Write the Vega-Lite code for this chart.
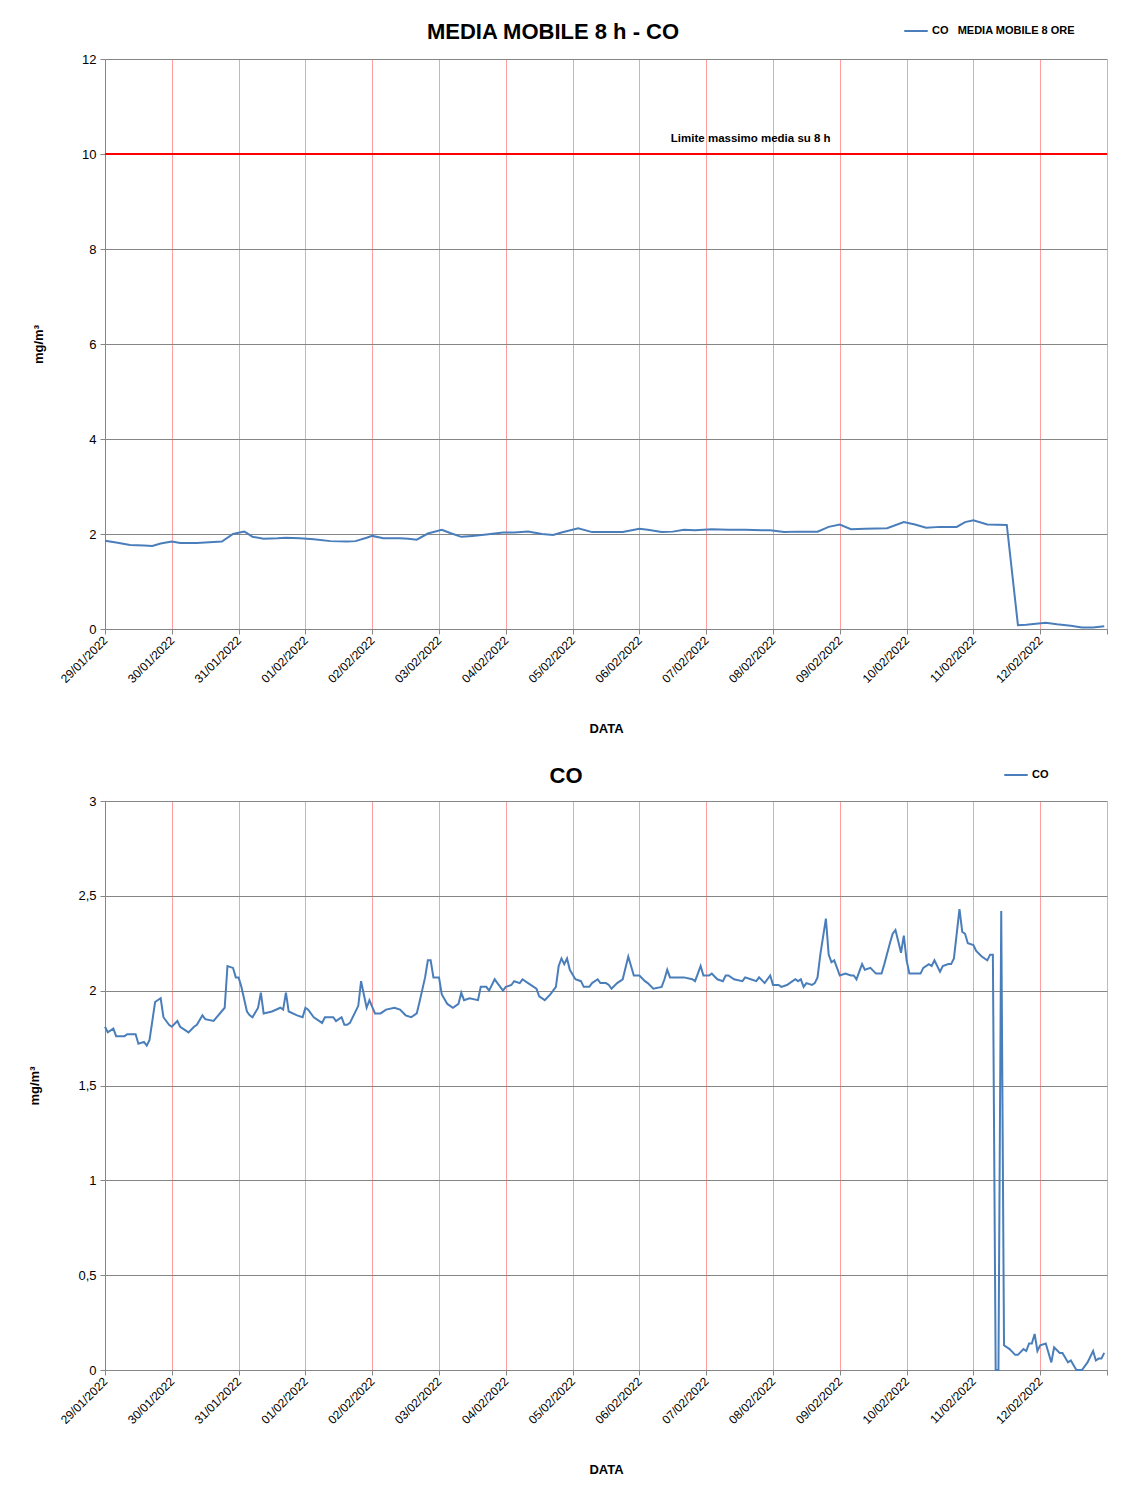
{
  "$schema": "https://vega.github.io/schema/vega-lite/v6.json",
  "background": "white",
  "padding": {"left": 28, "top": 18, "right": 20, "bottom": 4},
  "spacing": 26,
  "config": {
    "locale": {"number": {"decimal": ",", "thousands": ".", "grouping": [3], "currency": ["", " €"]}},
    "font": "Liberation Sans",
    "view": {"stroke": null},
    "axis": {
      "labelFont": "Liberation Sans",
      "labelFontSize": 13,
      "labelColor": "#000000",
      "titleFont": "Liberation Sans",
      "titleFontSize": 13,
      "titleFontWeight": "bold",
      "titleColor": "#000000",
      "domainColor": "#868686",
      "tickColor": "#868686",
      "tickSize": 5,
      "labelPadding": 4
    },
    "axisY": {"gridColor": "#868686", "gridWidth": 1, "titlePadding": 36},
    "axisX": {"gridColor": "#FF9E9E", "gridWidth": 1, "labelAngle": -45, "labelAlign": "right", "labelBaseline": "middle", "labelFontSize": 12, "titlePadding": 38},
    "title": {"font": "Liberation Sans", "fontSize": 22, "fontWeight": "bold", "color": "#000000"},
    "legend": {"labelFont": "Liberation Sans", "labelFontSize": 11, "labelFontWeight": "bold", "labelColor": "#000000", "symbolType": "stroke", "symbolStrokeWidth": 2, "symbolSize": 550, "labelOffset": 3}
  },
  "resolve": {"scale": {"color": "independent"}, "legend": {"color": "independent"}},
  "vconcat": [
    {
      "width": 1002,
      "height": 570,
      "title": {"text": "MEDIA MOBILE 8 h - CO", "anchor": "middle", "frame": "group", "dx": -53, "offset": -26},
      "encoding": {
        "x": {
          "field": "t", "type": "temporal",
          "scale": {"domain": [{"year": 2022, "month": 1, "date": 29}, {"year": 2022, "month": 2, "date": 13}]},
          "axis": {"title": "DATA", "tickCount": {"interval": "day", "step": 1}, "grid": true,
                   "labelExpr": "datum.value >= datetime(2022, 1, 13) ? '' : timeFormat(datum.value, '%d/%m/%Y')"}
        },
        "y": {
          "field": "v", "type": "quantitative",
          "scale": {"domain": [0, 12], "nice": false},
          "axis": {"title": "mg/m³", "values": [0, 2, 4, 6, 8, 10, 12], "grid": true}
        }
      },
      "layer": [
        {
          "data": {"values": [{"t": "2022-01-29T00:00", "v": 10}, {"t": "2022-02-13T00:00", "v": 10}]},
          "mark": {"type": "line", "color": "#FF0000", "strokeWidth": 2}
        },
        {
          "data": {"values": [
            {"t": "2022-01-29T00:00", "v": 1.86}, {"t": "2022-01-29T04:00", "v": 1.82}, {"t": "2022-01-29T09:00", "v": 1.77},
            {"t": "2022-01-29T14:00", "v": 1.76}, {"t": "2022-01-29T17:00", "v": 1.75}, {"t": "2022-01-29T20:00", "v": 1.80},
            {"t": "2022-01-30T00:00", "v": 1.84}, {"t": "2022-01-30T03:00", "v": 1.81}, {"t": "2022-01-30T09:00", "v": 1.81},
            {"t": "2022-01-30T15:00", "v": 1.83}, {"t": "2022-01-30T18:00", "v": 1.84}, {"t": "2022-01-30T22:00", "v": 2.00},
            {"t": "2022-01-31T02:00", "v": 2.05}, {"t": "2022-01-31T03:00", "v": 2.02}, {"t": "2022-01-31T05:00", "v": 1.94},
            {"t": "2022-01-31T09:00", "v": 1.90}, {"t": "2022-01-31T14:00", "v": 1.91}, {"t": "2022-01-31T17:00", "v": 1.92},
            {"t": "2022-01-31T22:00", "v": 1.91}, {"t": "2022-02-01T03:00", "v": 1.89}, {"t": "2022-02-01T09:00", "v": 1.85},
            {"t": "2022-02-01T15:00", "v": 1.84}, {"t": "2022-02-01T18:00", "v": 1.85}, {"t": "2022-02-01T22:00", "v": 1.92},
            {"t": "2022-02-02T00:00", "v": 1.96}, {"t": "2022-02-02T04:00", "v": 1.91}, {"t": "2022-02-02T10:00", "v": 1.91},
            {"t": "2022-02-02T13:00", "v": 1.90}, {"t": "2022-02-02T16:00", "v": 1.88}, {"t": "2022-02-02T20:00", "v": 2.01},
            {"t": "2022-02-03T01:00", "v": 2.09}, {"t": "2022-02-03T04:00", "v": 2.02}, {"t": "2022-02-03T08:00", "v": 1.94},
            {"t": "2022-02-03T12:00", "v": 1.96}, {"t": "2022-02-03T17:00", "v": 1.99}, {"t": "2022-02-03T23:00", "v": 2.03},
            {"t": "2022-02-04T03:00", "v": 2.03}, {"t": "2022-02-04T08:00", "v": 2.05}, {"t": "2022-02-04T13:00", "v": 2.00},
            {"t": "2022-02-04T17:00", "v": 1.98}, {"t": "2022-02-04T20:00", "v": 2.03}, {"t": "2022-02-05T02:00", "v": 2.12},
            {"t": "2022-02-05T07:00", "v": 2.04}, {"t": "2022-02-05T13:00", "v": 2.04}, {"t": "2022-02-05T18:00", "v": 2.04},
            {"t": "2022-02-06T00:00", "v": 2.11}, {"t": "2022-02-06T03:00", "v": 2.09}, {"t": "2022-02-06T08:00", "v": 2.04},
            {"t": "2022-02-06T12:00", "v": 2.05}, {"t": "2022-02-06T16:00", "v": 2.09}, {"t": "2022-02-06T20:00", "v": 2.08},
            {"t": "2022-02-07T02:00", "v": 2.10}, {"t": "2022-02-07T08:00", "v": 2.09}, {"t": "2022-02-07T14:00", "v": 2.09},
            {"t": "2022-02-07T20:00", "v": 2.08}, {"t": "2022-02-07T23:00", "v": 2.08}, {"t": "2022-02-08T04:00", "v": 2.04},
            {"t": "2022-02-08T09:00", "v": 2.05}, {"t": "2022-02-08T16:00", "v": 2.05}, {"t": "2022-02-08T20:00", "v": 2.15},
            {"t": "2022-02-09T00:00", "v": 2.20}, {"t": "2022-02-09T04:00", "v": 2.10}, {"t": "2022-02-09T09:00", "v": 2.11},
            {"t": "2022-02-09T17:00", "v": 2.12}, {"t": "2022-02-09T23:00", "v": 2.25}, {"t": "2022-02-10T03:00", "v": 2.20},
            {"t": "2022-02-10T07:00", "v": 2.13}, {"t": "2022-02-10T12:00", "v": 2.15}, {"t": "2022-02-10T18:00", "v": 2.15},
            {"t": "2022-02-10T21:00", "v": 2.25}, {"t": "2022-02-11T00:00", "v": 2.29}, {"t": "2022-02-11T05:00", "v": 2.20},
            {"t": "2022-02-11T12:00", "v": 2.19}, {"t": "2022-02-11T16:00", "v": 0.08}, {"t": "2022-02-11T19:00", "v": 0.09},
            {"t": "2022-02-12T02:00", "v": 0.13}, {"t": "2022-02-12T06:00", "v": 0.10}, {"t": "2022-02-12T11:00", "v": 0.07},
            {"t": "2022-02-12T15:00", "v": 0.03}, {"t": "2022-02-12T19:00", "v": 0.03}, {"t": "2022-02-12T23:00", "v": 0.06}
          ]},
          "mark": {"type": "line", "strokeWidth": 2},
          "encoding": {
            "color": {"datum": "CO\u00a0\u00a0\u00a0MEDIA MOBILE 8 ORE", "scale": {"range": ["#4A7EBB"]},
                      "legend": {"title": null, "orient": "none", "legendX": 798, "legendY": -41}}
          }
        },
        {
          "data": {"values": [{"t": "2022-02-07T16:00", "v": 10, "label": "Limite massimo media su 8 h"}]},
          "mark": {"type": "text", "font": "Liberation Sans", "fontSize": 11.5, "fontWeight": "bold", "color": "#000000", "dy": -15},
          "encoding": {
            "text": {"field": "label", "type": "nominal"}
          }
        }
      ]
    },
    {
      "width": 1002,
      "height": 569,
      "title": {"text": "CO", "anchor": "middle", "frame": "group", "dx": -40, "offset": -26},
      "data": {"values": [
        {"t": "2022-01-29T00:00", "v": 1.81}, {"t": "2022-01-29T01:00", "v": 1.78}, {"t": "2022-01-29T03:00", "v": 1.80},
        {"t": "2022-01-29T04:00", "v": 1.76}, {"t": "2022-01-29T07:00", "v": 1.76}, {"t": "2022-01-29T08:00", "v": 1.77},
        {"t": "2022-01-29T11:00", "v": 1.77}, {"t": "2022-01-29T12:00", "v": 1.72}, {"t": "2022-01-29T14:00", "v": 1.73},
        {"t": "2022-01-29T15:00", "v": 1.71}, {"t": "2022-01-29T16:00", "v": 1.74}, {"t": "2022-01-29T18:00", "v": 1.94},
        {"t": "2022-01-29T20:00", "v": 1.96}, {"t": "2022-01-29T21:00", "v": 1.86}, {"t": "2022-01-29T23:00", "v": 1.82},
        {"t": "2022-01-30T00:00", "v": 1.81}, {"t": "2022-01-30T02:00", "v": 1.84}, {"t": "2022-01-30T03:00", "v": 1.81},
        {"t": "2022-01-30T06:00", "v": 1.78}, {"t": "2022-01-30T08:00", "v": 1.81}, {"t": "2022-01-30T09:00", "v": 1.82},
        {"t": "2022-01-30T11:00", "v": 1.87}, {"t": "2022-01-30T12:00", "v": 1.85}, {"t": "2022-01-30T15:00", "v": 1.84},
        {"t": "2022-01-30T19:00", "v": 1.91}, {"t": "2022-01-30T20:00", "v": 2.13}, {"t": "2022-01-30T22:00", "v": 2.12},
        {"t": "2022-01-30T23:00", "v": 2.07}, {"t": "2022-01-31T00:00", "v": 2.07}, {"t": "2022-01-31T01:00", "v": 2.02},
        {"t": "2022-01-31T03:00", "v": 1.89}, {"t": "2022-01-31T04:00", "v": 1.87}, {"t": "2022-01-31T05:00", "v": 1.86},
        {"t": "2022-01-31T07:00", "v": 1.91}, {"t": "2022-01-31T08:00", "v": 1.99}, {"t": "2022-01-31T09:00", "v": 1.88},
        {"t": "2022-01-31T12:00", "v": 1.89}, {"t": "2022-01-31T15:00", "v": 1.91}, {"t": "2022-01-31T16:00", "v": 1.90},
        {"t": "2022-01-31T17:00", "v": 1.99}, {"t": "2022-01-31T18:00", "v": 1.89}, {"t": "2022-01-31T21:00", "v": 1.87},
        {"t": "2022-01-31T23:00", "v": 1.86}, {"t": "2022-02-01T00:00", "v": 1.91}, {"t": "2022-02-01T01:00", "v": 1.90},
        {"t": "2022-02-01T03:00", "v": 1.86}, {"t": "2022-02-01T06:00", "v": 1.83}, {"t": "2022-02-01T07:00", "v": 1.86},
        {"t": "2022-02-01T09:00", "v": 1.86}, {"t": "2022-02-01T10:00", "v": 1.86}, {"t": "2022-02-01T11:00", "v": 1.84},
        {"t": "2022-02-01T13:00", "v": 1.86}, {"t": "2022-02-01T14:00", "v": 1.82}, {"t": "2022-02-01T15:00", "v": 1.82},
        {"t": "2022-02-01T16:00", "v": 1.83}, {"t": "2022-02-01T19:00", "v": 1.92}, {"t": "2022-02-01T20:00", "v": 2.05},
        {"t": "2022-02-01T22:00", "v": 1.91}, {"t": "2022-02-01T23:00", "v": 1.95}, {"t": "2022-02-02T01:00", "v": 1.88},
        {"t": "2022-02-02T03:00", "v": 1.88}, {"t": "2022-02-02T05:00", "v": 1.90}, {"t": "2022-02-02T08:00", "v": 1.91},
        {"t": "2022-02-02T10:00", "v": 1.90}, {"t": "2022-02-02T12:00", "v": 1.87}, {"t": "2022-02-02T14:00", "v": 1.86},
        {"t": "2022-02-02T16:00", "v": 1.88}, {"t": "2022-02-02T17:00", "v": 1.94}, {"t": "2022-02-02T19:00", "v": 2.07},
        {"t": "2022-02-02T20:00", "v": 2.16}, {"t": "2022-02-02T21:00", "v": 2.16}, {"t": "2022-02-02T22:00", "v": 2.07},
        {"t": "2022-02-03T00:00", "v": 2.07}, {"t": "2022-02-03T01:00", "v": 1.98}, {"t": "2022-02-03T03:00", "v": 1.93},
        {"t": "2022-02-03T05:00", "v": 1.91}, {"t": "2022-02-03T07:00", "v": 1.93}, {"t": "2022-02-03T08:00", "v": 1.99},
        {"t": "2022-02-03T09:00", "v": 1.95}, {"t": "2022-02-03T11:00", "v": 1.96}, {"t": "2022-02-03T14:00", "v": 1.95},
        {"t": "2022-02-03T15:00", "v": 2.02}, {"t": "2022-02-03T17:00", "v": 2.02}, {"t": "2022-02-03T18:00", "v": 2.00},
        {"t": "2022-02-03T20:00", "v": 2.06}, {"t": "2022-02-03T21:00", "v": 2.04}, {"t": "2022-02-03T23:00", "v": 2.00},
        {"t": "2022-02-04T00:00", "v": 2.02}, {"t": "2022-02-04T02:00", "v": 2.03}, {"t": "2022-02-04T03:00", "v": 2.05},
        {"t": "2022-02-04T05:00", "v": 2.04}, {"t": "2022-02-04T06:00", "v": 2.06}, {"t": "2022-02-04T08:00", "v": 2.04},
        {"t": "2022-02-04T11:00", "v": 2.01}, {"t": "2022-02-04T12:00", "v": 1.97}, {"t": "2022-02-04T14:00", "v": 1.95},
        {"t": "2022-02-04T16:00", "v": 1.98}, {"t": "2022-02-04T18:00", "v": 2.02}, {"t": "2022-02-04T19:00", "v": 2.13},
        {"t": "2022-02-04T20:00", "v": 2.17}, {"t": "2022-02-04T21:00", "v": 2.14}, {"t": "2022-02-04T22:00", "v": 2.17},
        {"t": "2022-02-04T23:00", "v": 2.11}, {"t": "2022-02-05T01:00", "v": 2.06}, {"t": "2022-02-05T03:00", "v": 2.05},
        {"t": "2022-02-05T04:00", "v": 2.02}, {"t": "2022-02-05T06:00", "v": 2.02}, {"t": "2022-02-05T07:00", "v": 2.04},
        {"t": "2022-02-05T09:00", "v": 2.06}, {"t": "2022-02-05T10:00", "v": 2.04}, {"t": "2022-02-05T12:00", "v": 2.04},
        {"t": "2022-02-05T13:00", "v": 2.03}, {"t": "2022-02-05T14:00", "v": 2.01}, {"t": "2022-02-05T16:00", "v": 2.04},
        {"t": "2022-02-05T18:00", "v": 2.06}, {"t": "2022-02-05T20:00", "v": 2.18}, {"t": "2022-02-05T22:00", "v": 2.08},
        {"t": "2022-02-06T00:00", "v": 2.08}, {"t": "2022-02-06T02:00", "v": 2.05}, {"t": "2022-02-06T03:00", "v": 2.04},
        {"t": "2022-02-06T05:00", "v": 2.01}, {"t": "2022-02-06T08:00", "v": 2.02}, {"t": "2022-02-06T09:00", "v": 2.06},
        {"t": "2022-02-06T10:00", "v": 2.11}, {"t": "2022-02-06T11:00", "v": 2.07}, {"t": "2022-02-06T13:00", "v": 2.07},
        {"t": "2022-02-06T16:00", "v": 2.07}, {"t": "2022-02-06T19:00", "v": 2.06}, {"t": "2022-02-06T20:00", "v": 2.05},
        {"t": "2022-02-06T21:00", "v": 2.09}, {"t": "2022-02-06T22:00", "v": 2.13}, {"t": "2022-02-06T23:00", "v": 2.08},
        {"t": "2022-02-07T01:00", "v": 2.08}, {"t": "2022-02-07T02:00", "v": 2.09}, {"t": "2022-02-07T04:00", "v": 2.06},
        {"t": "2022-02-07T06:00", "v": 2.05}, {"t": "2022-02-07T07:00", "v": 2.08}, {"t": "2022-02-07T08:00", "v": 2.08},
        {"t": "2022-02-07T10:00", "v": 2.06}, {"t": "2022-02-07T13:00", "v": 2.05}, {"t": "2022-02-07T14:00", "v": 2.07},
        {"t": "2022-02-07T16:00", "v": 2.06}, {"t": "2022-02-07T18:00", "v": 2.05}, {"t": "2022-02-07T19:00", "v": 2.07},
        {"t": "2022-02-07T21:00", "v": 2.04}, {"t": "2022-02-07T23:00", "v": 2.08}, {"t": "2022-02-08T00:00", "v": 2.03},
        {"t": "2022-02-08T02:00", "v": 2.03}, {"t": "2022-02-08T03:00", "v": 2.02}, {"t": "2022-02-08T05:00", "v": 2.03},
        {"t": "2022-02-08T06:00", "v": 2.04}, {"t": "2022-02-08T08:00", "v": 2.06}, {"t": "2022-02-08T09:00", "v": 2.05},
        {"t": "2022-02-08T10:00", "v": 2.06}, {"t": "2022-02-08T11:00", "v": 2.02}, {"t": "2022-02-08T12:00", "v": 2.04},
        {"t": "2022-02-08T14:00", "v": 2.03}, {"t": "2022-02-08T15:00", "v": 2.04}, {"t": "2022-02-08T16:00", "v": 2.07},
        {"t": "2022-02-08T17:00", "v": 2.19}, {"t": "2022-02-08T19:00", "v": 2.38}, {"t": "2022-02-08T20:00", "v": 2.19},
        {"t": "2022-02-08T21:00", "v": 2.15}, {"t": "2022-02-08T22:00", "v": 2.16}, {"t": "2022-02-08T23:00", "v": 2.12},
        {"t": "2022-02-09T00:00", "v": 2.08}, {"t": "2022-02-09T02:00", "v": 2.09}, {"t": "2022-02-09T04:00", "v": 2.08},
        {"t": "2022-02-09T05:00", "v": 2.08}, {"t": "2022-02-09T06:00", "v": 2.06}, {"t": "2022-02-09T07:00", "v": 2.10},
        {"t": "2022-02-09T08:00", "v": 2.14}, {"t": "2022-02-09T09:00", "v": 2.11}, {"t": "2022-02-09T11:00", "v": 2.12},
        {"t": "2022-02-09T13:00", "v": 2.09}, {"t": "2022-02-09T15:00", "v": 2.09}, {"t": "2022-02-09T16:00", "v": 2.14},
        {"t": "2022-02-09T18:00", "v": 2.25}, {"t": "2022-02-09T19:00", "v": 2.30}, {"t": "2022-02-09T20:00", "v": 2.32},
        {"t": "2022-02-09T21:00", "v": 2.26}, {"t": "2022-02-09T22:00", "v": 2.20}, {"t": "2022-02-09T23:00", "v": 2.29},
        {"t": "2022-02-10T00:00", "v": 2.16}, {"t": "2022-02-10T01:00", "v": 2.09}, {"t": "2022-02-10T05:00", "v": 2.09},
        {"t": "2022-02-10T06:00", "v": 2.12}, {"t": "2022-02-10T08:00", "v": 2.14}, {"t": "2022-02-10T09:00", "v": 2.13},
        {"t": "2022-02-10T10:00", "v": 2.16}, {"t": "2022-02-10T12:00", "v": 2.10}, {"t": "2022-02-10T13:00", "v": 2.13},
        {"t": "2022-02-10T15:00", "v": 2.14}, {"t": "2022-02-10T16:00", "v": 2.14}, {"t": "2022-02-10T17:00", "v": 2.17},
        {"t": "2022-02-10T19:00", "v": 2.43}, {"t": "2022-02-10T20:00", "v": 2.31}, {"t": "2022-02-10T21:00", "v": 2.30},
        {"t": "2022-02-10T22:00", "v": 2.25}, {"t": "2022-02-11T00:00", "v": 2.24}, {"t": "2022-02-11T01:00", "v": 2.21},
        {"t": "2022-02-11T03:00", "v": 2.18}, {"t": "2022-02-11T05:00", "v": 2.16}, {"t": "2022-02-11T06:00", "v": 2.19},
        {"t": "2022-02-11T07:00", "v": 2.19}, {"t": "2022-02-11T08:00", "v": 0.0}, {"t": "2022-02-11T09:00", "v": 0.0},
        {"t": "2022-02-11T10:00", "v": 2.42}, {"t": "2022-02-11T11:00", "v": 0.13}, {"t": "2022-02-11T13:00", "v": 0.11},
        {"t": "2022-02-11T15:00", "v": 0.08}, {"t": "2022-02-11T16:00", "v": 0.08}, {"t": "2022-02-11T18:00", "v": 0.11},
        {"t": "2022-02-11T19:00", "v": 0.10}, {"t": "2022-02-11T20:00", "v": 0.14}, {"t": "2022-02-11T21:00", "v": 0.14},
        {"t": "2022-02-11T22:00", "v": 0.19}, {"t": "2022-02-11T23:00", "v": 0.10}, {"t": "2022-02-12T00:00", "v": 0.13},
        {"t": "2022-02-12T02:00", "v": 0.14}, {"t": "2022-02-12T04:00", "v": 0.04}, {"t": "2022-02-12T05:00", "v": 0.12},
        {"t": "2022-02-12T07:00", "v": 0.09}, {"t": "2022-02-12T08:00", "v": 0.09}, {"t": "2022-02-12T10:00", "v": 0.04},
        {"t": "2022-02-12T11:00", "v": 0.05}, {"t": "2022-02-12T13:00", "v": 0.0}, {"t": "2022-02-12T15:00", "v": 0.0},
        {"t": "2022-02-12T17:00", "v": 0.04}, {"t": "2022-02-12T19:00", "v": 0.10}, {"t": "2022-02-12T20:00", "v": 0.05},
        {"t": "2022-02-12T21:00", "v": 0.06}, {"t": "2022-02-12T22:00", "v": 0.06}, {"t": "2022-02-12T23:00", "v": 0.09}
      ]},
      "mark": {"type": "line", "strokeWidth": 2},
      "encoding": {
        "x": {
          "field": "t", "type": "temporal",
          "scale": {"domain": [{"year": 2022, "month": 1, "date": 29}, {"year": 2022, "month": 2, "date": 13}]},
          "axis": {"title": "DATA", "tickCount": {"interval": "day", "step": 1}, "grid": true,
                   "labelExpr": "datum.value >= datetime(2022, 1, 13) ? '' : timeFormat(datum.value, '%d/%m/%Y')"}
        },
        "y": {
          "field": "v", "type": "quantitative",
          "scale": {"domain": [0, 3], "nice": false},
          "axis": {"title": "mg/m³", "values": [0, 0.5, 1, 1.5, 2, 2.5, 3], "grid": true, "format": "~g"}
        },
        "color": {"datum": "CO", "scale": {"range": ["#4A7EBB"]},
                  "legend": {"title": null, "orient": "none", "legendX": 898, "legendY": -39}}
      }
    }
  ]
}
